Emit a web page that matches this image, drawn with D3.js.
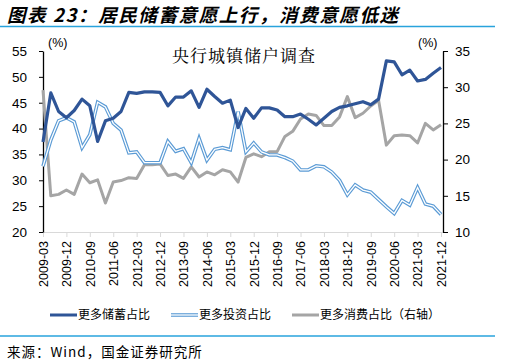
<!DOCTYPE html>
<html>
<head>
<meta charset="utf-8">
<script src="https://cdn.jsdelivr.net/npm/d3@7"></script>
<style>
  html, body { margin: 0; padding: 0; background: #fff; }
  svg { display: block; }
  text { font-family: "Liberation Sans", Arial, "Noto Sans CJK SC", sans-serif; }
  .cjk { font-family: "Noto Sans CJK SC", sans-serif; }
</style>
</head>
<body>
<svg id="chart" width="516" height="364"></svg>
<script>
const quarters = [
  "2009-03","2009-06","2009-09","2009-12","2010-03","2010-06","2010-09","2010-12",
  "2011-03","2011-06","2011-09","2011-12","2012-03","2012-06","2012-09","2012-12",
  "2013-03","2013-06","2013-09","2013-12","2014-03","2014-06","2014-09","2014-12",
  "2015-03","2015-06","2015-09","2015-12","2016-03","2016-06","2016-09","2016-12",
  "2017-03","2017-06","2017-09","2017-12","2018-03","2018-06","2018-09","2018-12",
  "2019-03","2019-06","2019-09","2019-12","2020-03","2020-06","2020-09","2020-12",
  "2021-03","2021-06","2021-09","2021-12"
];
// 更多储蓄占比 (left axis, %)
const savings = [
  37.4,46.9,43.3,42.1,43.5,45.7,44.4,37.5,41.5,42.0,43.3,47.0,46.8,47.1,47.1,47.0,
  44.4,46.1,46.1,47.3,44.1,47.6,46.2,44.9,45.5,40.2,43.9,42.0,44.0,44.0,43.6,42.3,
  42.3,42.8,41.8,40.7,42.0,43.3,44.1,44.4,44.8,45.2,44.6,45.7,53.1,52.9,50.4,51.3,
  49.2,49.5,50.7,51.8
];
// 更多投资占比 (left axis, %)
const investment = [
  32.7,37.8,41.5,42.1,41.3,36.3,38.8,45.1,44.2,41.0,39.7,35.3,35.5,33.4,33.4,33.4,
  37.5,35.6,36.1,33.4,38.1,33.9,36.0,36.3,35.9,43.3,35.5,37.2,35.5,34.9,34.9,34.4,
  33.7,32.0,32.0,32.8,32.6,31.6,30.0,27.2,29.1,28.1,27.7,26.3,24.9,23.6,26.1,25.2,
  28.6,25.4,25.0,23.4
];
// 更多消费占比 (right axis, %)
const consumption = [
  29.6,15.0,15.2,15.8,15.2,18.0,16.8,17.2,14.0,16.9,17.1,17.5,17.4,19.3,19.3,19.4,
  17.8,18.0,17.4,19.0,17.6,18.3,17.9,18.6,18.3,16.9,20.3,20.8,20.4,21.1,21.1,23.2,
  23.9,25.6,26.3,26.1,24.7,24.7,25.9,28.7,25.8,26.4,27.4,28.2,22.0,23.3,23.4,23.3,
  22.3,25.0,24.1,24.8
];
const leftTicks = [20,25,30,35,40,45,50,55];
const rightTicks = [10,15,20,25,30,35];
const xTickLabels = quarters.filter((d,i) => i % 3 === 0);
const seriesNames = ["更多储蓄占比","更多投资占比","更多消费占比（右轴）"];
const titleText = "图表 23：居民储蓄意愿上行，消费意愿低迷";
const chartLabel = "央行城镇储户调查";
const sourceText = "来源：Wind，国金证券研究所";

const svg = d3.select("#chart");

const colSave = "#2f5597", colInv = "#5b9bd5", colCons = "#a5a5a5";

// Title
svg.append("text").attr("class","cjk")
  .attr("x", 7).attr("y", 22)
  .attr("font-size", 18.5).attr("font-weight", "bold").attr("font-style","italic")
  .style("letter-spacing","1.6px")
  .attr("fill", "#000")
  .text(titleText);
svg.append("line").attr("x1",0).attr("x2",495).attr("y1",26.5).attr("y2",26.5)
  .attr("stroke","#29a3dc").attr("stroke-width",1.3);
svg.append("line").attr("x1",0).attr("x2",495).attr("y1",336).attr("y2",336)
  .attr("stroke","#29a3dc").attr("stroke-width",1.3);

// Scales
const x = d3.scalePoint().domain(quarters).range([43, 441]);
const yL = d3.scaleLinear().domain([20,55]).range([232,51]);
const yR = d3.scaleLinear().domain([10,35]).range([232,51]);

// X axis
const xAxis = svg.append("g").attr("transform","translate(0,232)")
  .call(d3.axisBottom(x).tickValues(xTickLabels).tickSize(5).tickPadding(6).tickSizeOuter(0));
xAxis.select(".domain").attr("stroke","#d9d9d9").attr("stroke-width",1.2)
  .attr("d", "M43,0.5H443");
xAxis.selectAll(".tick line").attr("stroke","#d9d9d9");
xAxis.selectAll(".tick text")
  .attr("transform","rotate(-90)")
  .attr("text-anchor","end")
  .attr("x",-9).attr("y",0).attr("dy","0.35em")
  .attr("font-size",12.5).attr("fill","#000");

// Left axis
const yAxisL = svg.append("g").attr("transform","translate(43,0)")
  .call(d3.axisLeft(yL).tickValues(leftTicks).tickSize(4).tickPadding(12).tickSizeOuter(0));
yAxisL.select(".domain").attr("stroke","#000").attr("stroke-width",1.3);
yAxisL.selectAll(".tick line").attr("stroke","#000");
yAxisL.selectAll(".tick text").attr("font-size",13.5).attr("fill","#000");

// Right axis
const yAxisR = svg.append("g").attr("transform","translate(443,0)")
  .call(d3.axisRight(yR).tickValues(rightTicks).tickSize(5).tickPadding(7).tickSizeOuter(0));
yAxisR.select(".domain").attr("stroke","#000").attr("stroke-width",1.3);
yAxisR.selectAll(".tick line").attr("stroke","#000");
yAxisR.selectAll(".tick text").attr("font-size",13.5).attr("fill","#000");
svg.selectAll(".tick text").style("font-family","'Liberation Sans', Arial, sans-serif");

// (%) labels
svg.append("text").attr("x",48).attr("y",47).attr("font-size",12.5).attr("fill","#000").text("(%)");
svg.append("text").attr("x",418).attr("y",47).attr("font-size",12.5).attr("fill","#000").text("(%)");

// Chart inner label
svg.append("text").attr("x",244).attr("y",62).attr("text-anchor","middle")
  .attr("font-size",17).attr("fill","#000")
  .style("font-family","'Noto Serif CJK SC','Noto Sans CJK SC',serif")
  .style("letter-spacing","1px")
  .text(chartLabel);

// Lines
const lineL = d3.line().x((d,i) => x(quarters[i])).y(d => yL(d));
const lineR = d3.line().x((d,i) => x(quarters[i])).y(d => yR(d));

svg.append("path").datum(consumption).attr("d", lineR)
  .attr("fill","none").attr("stroke",colCons).attr("stroke-width",3).attr("stroke-linejoin","round");
svg.append("path").datum(investment).attr("d", lineL)
  .attr("fill","none").attr("stroke",colInv).attr("stroke-width",3.6).attr("stroke-linejoin","miter");
svg.append("path").datum(investment).attr("d", lineL)
  .attr("fill","none").attr("stroke","#fff").attr("stroke-width",1.3).attr("stroke-linejoin","miter");
svg.append("path").datum(savings).attr("d", lineL)
  .attr("fill","none").attr("stroke",colSave).attr("stroke-width",3.2).attr("stroke-linejoin","round");

// Legend
const legendItems = [
  {name: seriesNames[0], x: 50, type: "save"},
  {name: seriesNames[1], x: 171, type: "inv"},
  {name: seriesNames[2], x: 292, type: "cons"}
];
const lg = svg.append("g");
legendItems.forEach(it => {
  const y0 = 315;
  if (it.type === "save") {
    lg.append("line").attr("x1",it.x).attr("x2",it.x+27).attr("y1",y0).attr("y2",y0)
      .attr("stroke",colSave).attr("stroke-width",3);
  } else if (it.type === "inv") {
    lg.append("line").attr("x1",it.x).attr("x2",it.x+27).attr("y1",y0).attr("y2",y0)
      .attr("stroke",colInv).attr("stroke-width",3.6);
    lg.append("line").attr("x1",it.x).attr("x2",it.x+27).attr("y1",y0).attr("y2",y0)
      .attr("stroke","#fff").attr("stroke-width",1.3);
  } else {
    lg.append("line").attr("x1",it.x).attr("x2",it.x+27).attr("y1",y0).attr("y2",y0)
      .attr("stroke",colCons).attr("stroke-width",3);
  }
  lg.append("text").attr("class","cjk").attr("x",it.x+28).attr("y",y0).attr("dy","0.36em")
    .attr("font-size",12).attr("fill","#000").text(it.name);
});

// Source
svg.append("text").attr("class","cjk").attr("x",7).attr("y",352).attr("dy","0.35em")
  .attr("font-size",13.5).style("letter-spacing","1px").attr("fill","#000").text(sourceText);
</script>
</body>
</html>
